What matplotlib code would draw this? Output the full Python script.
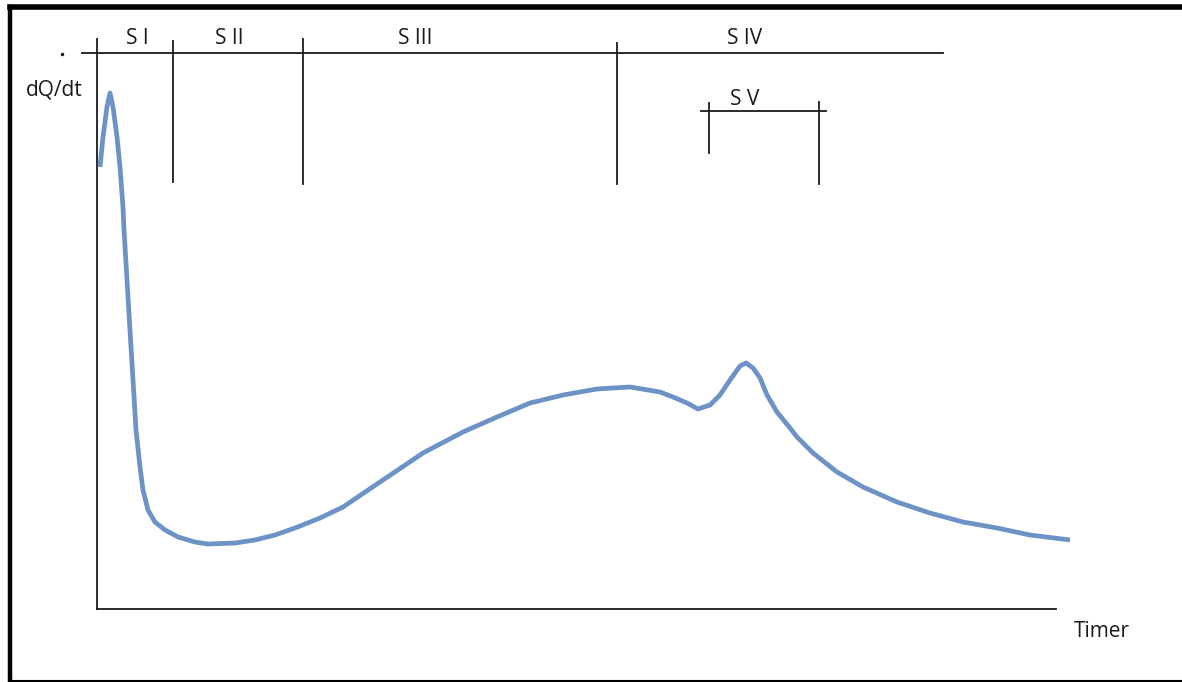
import matplotlib
matplotlib.use("Agg")
import matplotlib.pyplot as plt
from matplotlib.lines import Line2D

# curve (time and dQ/dt, arbitrary units 0..100)
time = [0.31, 0.63, 1.04, 1.36, 1.67, 2.09, 2.40, 2.71, 2.82, 3.13, 3.44, 3.76,
        4.07, 4.49, 4.80, 5.32, 6.05, 7.10, 8.46, 10.23, 11.59, 14.41, 16.49,
        18.58, 20.67, 23.28, 25.68, 29.85, 34.03, 38.20, 41.75, 45.20, 48.64,
        52.19, 55.64, 58.77, 60.13, 61.59, 62.73, 63.99, 65.03, 66.08, 67.12,
        67.75, 68.48, 69.21, 69.94, 70.98, 72.34, 73.07, 74.74, 77.24, 79.96,
        83.51, 86.95, 90.40, 93.95, 97.39, 101.57]
heat = [77.54, 82.81, 88.07, 90.53, 88.07, 82.81, 77.54, 70.53, 66.49, 57.72,
        48.95, 40.18, 31.40, 24.91, 20.88, 17.37, 15.26, 13.86, 12.63, 11.75,
        11.40, 11.58, 12.11, 12.98, 14.21, 15.96, 17.89, 22.63, 27.37, 31.05,
        33.68, 36.14, 37.54, 38.60, 38.95, 38.07, 37.19, 36.14, 35.09, 35.79,
        37.54, 40.18, 42.63, 43.16, 42.28, 40.53, 37.54, 34.56, 31.75, 30.18,
        27.37, 24.04, 21.40, 18.77, 16.84, 15.26, 14.21, 12.98, 12.11]

# stage boundaries
stage_x = [7.93, 21.5, 54.28]
stage_top = [99.6, 100.0, 99.3]
stage_bottom = [74.9, 74.6, 74.6]
stage_labels = ["S I", "S II", "S III", "S IV"]
stage_label_x = [4.18, 13.8, 33.2, 67.6]

# S V sub-stage
sv_left, sv_right = 63.9, 75.4
sv_bar_y = 87.4

fig = plt.figure(figsize=(11.82, 6.82), dpi=100)
ax = fig.add_axes([97 / 1182, 73 / 682, 958 / 1182, 570 / 682])
ax.set_xlim(0, 100)
ax.set_ylim(0, 100)
ax.axis("off")

black = "#1a1a1a"
lw = 1.3

# axes
ax.plot([0, 0], [0, 100], color=black, lw=lw, clip_on=False)
ax.plot([0, 100.1], [0, 0], color=black, lw=lw, clip_on=False)

# stage bar
ax.plot([-1.57, 88.3], [97.5, 97.5], color=black, lw=lw, clip_on=False)
for x, t, b in zip(stage_x, stage_top, stage_bottom):
    ax.plot([x, x], [b, t], color=black, lw=lw, clip_on=False)

# S V bracket
ax.plot([63.05, 76.1], [sv_bar_y, sv_bar_y], color=black, lw=lw, clip_on=False)
ax.plot([sv_left, sv_left], [80.0, 88.8], color=black, lw=lw, clip_on=False)
ax.plot([sv_right, sv_right], [74.6, 88.9], color=black, lw=lw, clip_on=False)

# curve
ax.plot(time, heat, color="#6D92C5", lw=3.4, solid_joinstyle="round",
        solid_capstyle="butt", clip_on=False)

font = "Open Sans"
fs = 15
for lab, x in zip(stage_labels, stage_label_x):
    ax.text(x, 100.0, lab, ha="center", va="center", fontsize=fs, family=font, color=black)
ax.text(67.6, 89.3, "S V", ha="center", va="center", fontsize=fs, family=font, color=black)
ax.text(-4.5, 91.1, "dQ/dt", ha="center", va="center", fontsize=fs, family=font, color=black)
ax.text(104.9, -3.9, "Timer", ha="center", va="center", fontsize=fs, family=font, color=black)
ax.plot([-3.65], [97.4], marker="o", ms=1.5, color=black, clip_on=False)

# outer frame
fig.add_artist(Line2D([10 / 1182, 10 / 1182], [0.0, 1 - 7 / 682], color="black", lw=3.2))
fig.add_artist(Line2D([10 / 1182, 1.0], [1 - 7 / 682, 1 - 7 / 682], color="black", lw=4))
fig.add_artist(Line2D([10 / 1182, 1.0], [1.5 / 682, 1.5 / 682], color="black", lw=1.5))

fig.savefig("out.png", dpi=100, facecolor="white")
